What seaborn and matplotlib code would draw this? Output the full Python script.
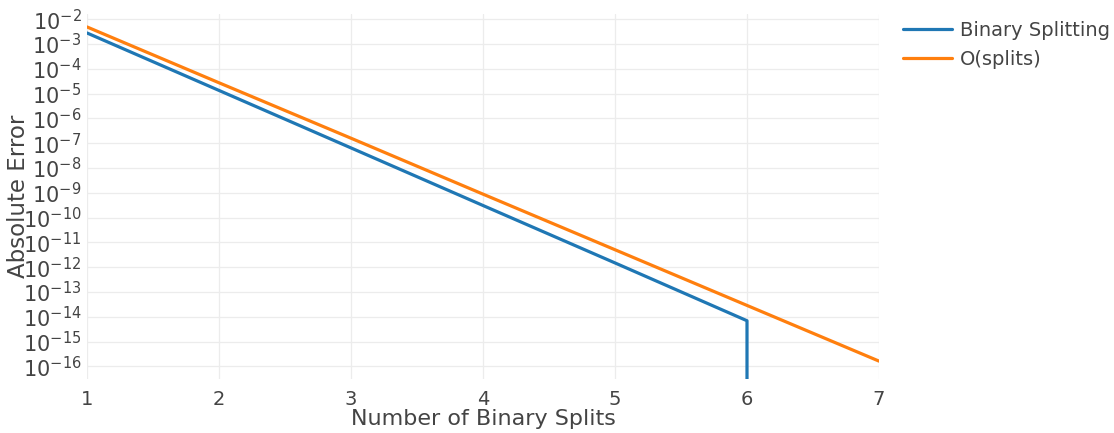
import pandas as pd
import matplotlib
matplotlib.use("Agg")
import matplotlib.pyplot as plt
import seaborn as sns

# Error of the binary splitting scheme per number of splits
# (the last entry is exact: zero error, drawn down to the axis floor)
split_x = [1, 2, 3, 4, 5, 6, 6]
split_err = [2.8e-3, 1.35e-5, 6.5e-8, 3.1e-10, 1.5e-12, 7.0e-15, 0.0]

# Reference O(splits) convergence rate
rate_x = [1, 2, 3, 4, 5, 6, 7]
rate_err = [4.9e-3, 2.75e-5, 1.6e-7, 8.9e-10, 5.1e-12, 2.9e-14, 1.65e-16]

series_names = ["Binary Splitting", "O(splits)"]
x_ticks = [1, 2, 3, 4, 5, 6, 7]
y_decades = list(range(-16, -1))

sns.set_theme(style="white")
plt.rcParams["font.family"] = ["DejaVu Sans"]
plt.rcParams["mathtext.default"] = "regular"

text_color = "#444444"
grid_color = "#ececec"
palette = {series_names[0]: "#1f77b4", series_names[1]: "#ff7f0e"}

df = pd.concat([
    pd.DataFrame({"splits": split_x, "err": split_err, "series": series_names[0]}),
    pd.DataFrame({"splits": rate_x, "err": rate_err, "series": series_names[1]}),
], ignore_index=True)

fig = plt.figure(figsize=(11.14, 4.33), dpi=100)
ax = fig.add_axes([87 / 1114, 1 - 379 / 433, 792 / 1114, (379 - 14.3) / 433])

sns.lineplot(data=df, x="splits", y="err", hue="series", palette=palette,
             estimator=None, sort=False, units="series", linewidth=2.3, ax=ax)

ax.set_yscale("log", nonpositive="clip")
ax.set_ylim(10 ** -16.504, 10 ** -1.8)
ax.set_xlim(1, 7)

ax.set_yticks([10.0 ** d for d in y_decades])
ax.yaxis.set_minor_locator(matplotlib.ticker.NullLocator())
ax.set_xticks(x_ticks)

ax.grid(True, which="major", color=grid_color, linewidth=0.9)
for s in ax.spines.values():
    s.set_visible(False)

ax.tick_params(axis="both", which="both", length=0, colors=text_color)
ax.tick_params(axis="y", pad=4, labelsize=15)
ax.tick_params(axis="x", pad=8, labelsize=14)

ax.set_xlabel("Number of Binary Splits", fontsize=16, color=text_color, labelpad=0)
ax.set_ylabel("Absolute Error", fontsize=16.5, color=text_color)
ax.yaxis.set_label_coords(-0.0714, 0.5)

handles, labels = ax.get_legend_handles_labels()
ax.legend(handles, labels, loc="upper left", frameon=False,
          bbox_to_anchor=(903 / 1114, 1 - 21 / 433), bbox_transform=fig.transFigure,
          borderpad=0, borderaxespad=0, fontsize=14, labelcolor=text_color,
          handlelength=2.5, handletextpad=0.45, labelspacing=0.5)

fig.savefig("out.png", dpi=100)
